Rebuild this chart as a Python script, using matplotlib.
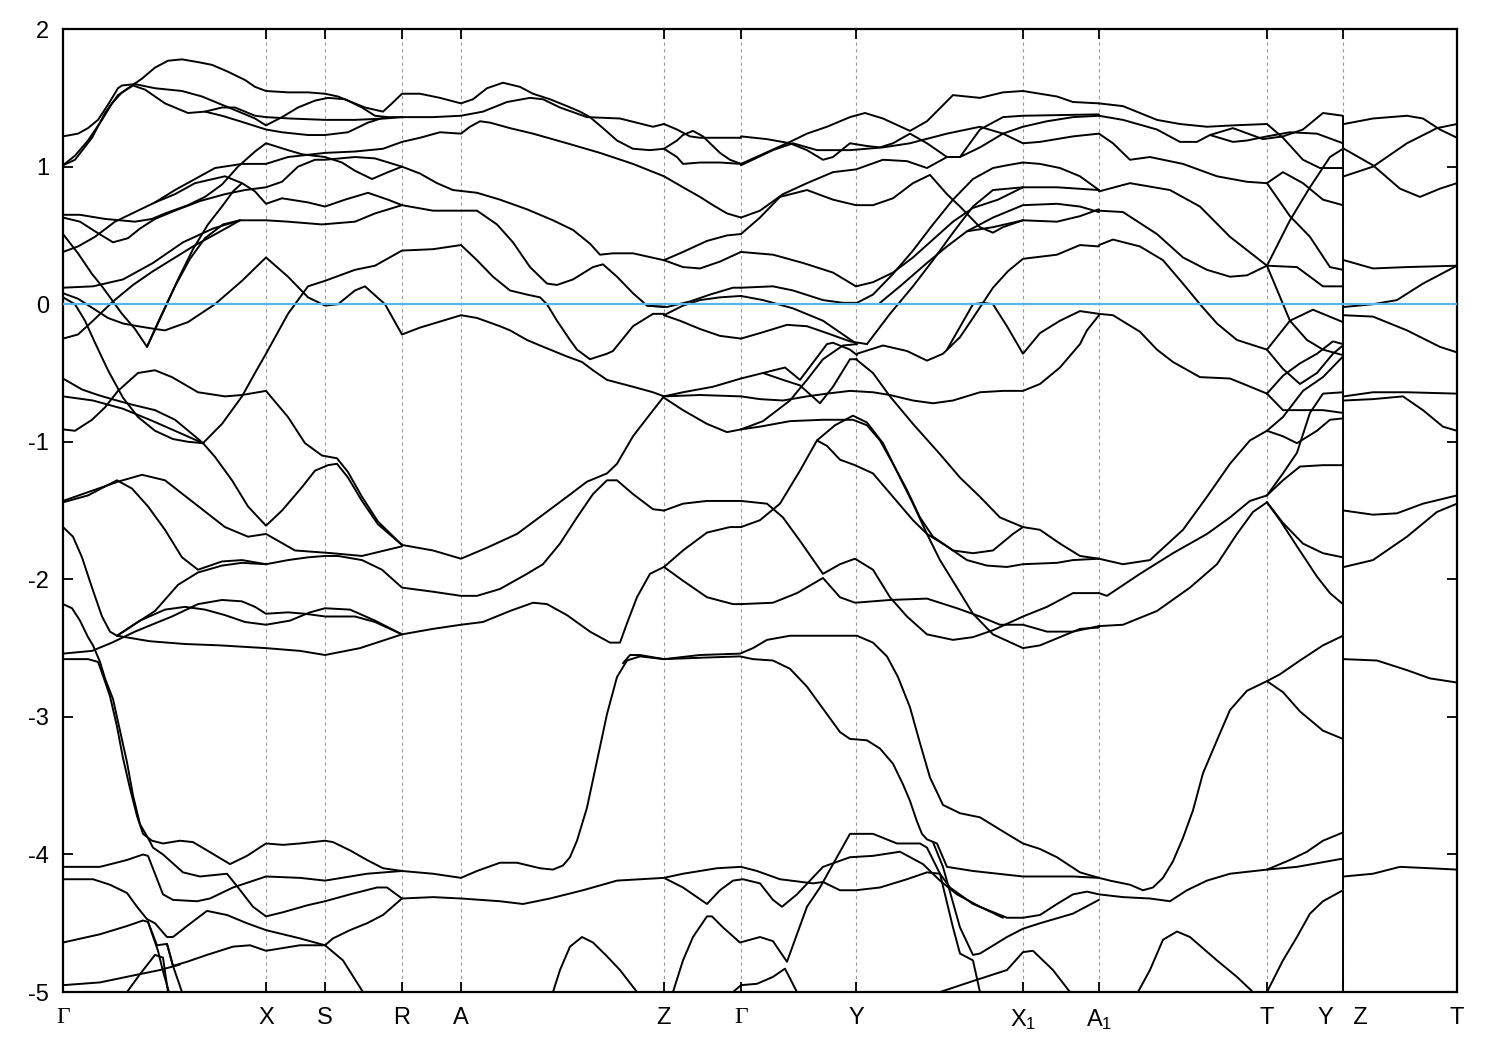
import matplotlib
matplotlib.use("Agg")
import matplotlib.pyplot as plt

plt.rcParams['font.family'] = ['Liberation Sans', 'DejaVu Sans']
plt.rcParams['axes.unicode_minus'] = False
plt.rcParams['mathtext.fontset'] = 'custom'
plt.rcParams['mathtext.rm'] = 'Liberation Sans'
plt.rcParams['mathtext.default'] = 'regular'

# k-path positions of the high-symmetry points (arbitrary path units)
kpoints = [0, 203, 262, 339, 398, 601, 678, 793, 960, 1036, 1204, 1280, 1394]
klabels = ['Γ', 'X', 'S', 'R', 'A', 'Z', 'Γ', 'Y', 'X$_1$', 'A$_1$', 'T', 'Y   Z', 'T']
k_break = 1280      # Y|Z discontinuity
e_min, e_max = -5, 2

# ---- bands, Gamma -> X -> S -> R -> A -> Z, upper part  (k, E in eV)
g_z_top = [
    [(0,1.01),(12,1.08),(25,1.19),(39,1.34),(49,1.46),(59,1.54),(69,1.59),(79,1.64),(92,1.72),(105,1.77),(119,1.78),(135,1.76),(149,1.74),(165,1.69),(182,1.63),(192,1.58),(203,1.55),(225,1.54),(245,1.54),(262,1.53),(275,1.51),(285,1.48),(302,1.43),(320,1.40),(329,1.46),(339,1.53),(357,1.53),(377,1.50),(398,1.46),(410,1.49),(424,1.57),(440,1.61),(457,1.58),(470,1.53),(487,1.49),(504,1.44),(517,1.40),(527,1.36),(540,1.28),(554,1.19),(570,1.13),(587,1.12),(601,1.13)],
    [(0,1.22),(15,1.24),(25,1.28),(35,1.34),(45,1.45),(55,1.57),(59,1.59),(72,1.60),(92,1.57),(119,1.55),(139,1.51),(159,1.45),(179,1.39),(192,1.35),(203,1.30),(219,1.36),(235,1.43),(252,1.48),(265,1.50),(282,1.49),(299,1.43),(312,1.37),(325,1.36),(339,1.36),(370,1.36),(398,1.37),(420,1.40),(444,1.47),(467,1.50),(480,1.49),(497,1.43),(524,1.36),(557,1.35),(590,1.29),(601,1.31)],
    [(0,1.01),(12,1.05),(29,1.21),(42,1.39),(55,1.52),(70,1.59),(82,1.56),(102,1.46),(125,1.39),(142,1.40),(159,1.43),(172,1.43),(192,1.37),(203,1.36),(227,1.35),(262,1.34),(292,1.34),(322,1.35),(339,1.36)],
    [(142,1.40),(159,1.37),(177,1.33),(203,1.27),(219,1.25),(245,1.23),(262,1.23),(285,1.25),(305,1.32),(322,1.36)],
    [(0,0.65),(17,0.65),(42,0.62),(72,0.60),(89,0.62),(102,0.66),(125,0.72),(142,0.78),(159,0.87),(175,1.0),(192,1.11),(203,1.17),(225,1.12),(239,1.09),(262,1.07),(279,1.03),(292,0.97),(309,0.91),(325,0.96),(339,1.00),(357,0.95),(374,0.88),(390,0.83),(414,0.81),(437,0.76),(464,0.69),(490,0.61),(510,0.54),(527,0.44),(537,0.36),(550,0.37),(570,0.37),(601,0.32)],
    [(0,0.38),(15,0.42),(32,0.49),(52,0.60),(72,0.67),(92,0.74),(112,0.83),(132,0.91),(152,0.99),(179,1.02),(203,1.02),(225,1.07),(262,1.10),(292,1.11),(320,1.13),(339,1.18),(357,1.21),(377,1.25),(398,1.24),(407,1.29),(417,1.33),(427,1.32),(447,1.28),(470,1.24),(504,1.17),(537,1.10),(570,1.02),(601,0.93)],
    [(0,0.63),(17,0.60),(32,0.53),(50,0.45),(65,0.48),(77,0.55),(92,0.62),(112,0.68),(137,0.75),(162,0.80),(182,0.83),(203,0.85),(219,0.89),(235,1.0),(252,1.05),(262,1.05),(292,1.07),(312,1.06),(339,1.0)],
    [(92,0.74),(112,0.80),(132,0.88),(162,0.93),(179,0.88),(192,0.82),(203,0.73),(219,0.77),(245,0.74),(262,0.71),(282,0.76),(305,0.81),(325,0.76),(339,0.72),(370,0.68),(414,0.68),(434,0.58),(450,0.45),(467,0.27),(484,0.15),(494,0.14),(510,0.18),(530,0.27),(540,0.29),(554,0.20),(570,0.08),(584,-0.01),(601,-0.02)],
    [(0,0.51),(15,0.37),(29,0.22),(39,0.13),(47,0.05),(59,-0.07),(72,-0.18),(84,-0.31),(97,-0.10),(112,0.13),(127,0.33),(142,0.48),(160,0.58),(177,0.61),(203,0.61),(225,0.60),(259,0.58),(292,0.60),(312,0.66),(339,0.72)],
    [(84,-0.31),(100,-0.06),(115,0.18),(130,0.40),(145,0.58),(160,0.72),(170,0.82),(179,0.88)],
    [(0,0.08),(15,0.04),(30,-0.03),(45,-0.10),(60,-0.14),(75,-0.16),(92,-0.18),(102,-0.19),(125,-0.13),(152,0.0),(179,0.17),(203,0.34),(225,0.20),(245,0.05),(262,-0.01),(275,0.0),(292,0.10),(302,0.13),(322,0.0),(339,-0.22),(357,-0.17),(398,-0.08),(414,-0.10),(437,-0.16),(447,-0.19),(464,-0.26),(477,-0.30),(504,-0.38),(519,-0.42),(530,-0.48),(544,-0.55),(570,-0.60),(590,-0.64),(601,-0.67)],
    [(0,0.12),(30,0.13),(60,0.18),(90,0.30),(120,0.45),(150,0.55),(177,0.61)],
    [(0,-0.25),(15,-0.22),(30,-0.12),(50,0.02),(70,0.14),(90,0.24),(110,0.33),(130,0.42),(150,0.50),(165,0.56),(177,0.61)],
    [(0,0.05),(12,0.0),(22,-0.12),(32,-0.28),(45,-0.48),(60,-0.68),(75,-0.82),(92,-0.92),(110,-0.98),(125,-1.0),(140,-1.01)],
    [(140,-1.01),(159,-0.87),(179,-0.67),(192,-0.50),(203,-0.36),(225,-0.07),(245,0.13),(262,0.17),(292,0.25),(312,0.28),(339,0.39),(370,0.40),(398,0.43),(414,0.32),(430,0.20),(447,0.10),(464,0.07),(477,0.05),(484,0.0),(494,-0.12),(507,-0.26),(514,-0.33),(527,-0.40),(544,-0.36),(550,-0.34),(570,-0.16),(590,-0.07),(601,-0.07)],
]

# ---- Gamma -> Z, middle part
g_z_mid = [
    [(0,-0.54),(19,-0.62),(35,-0.66),(49,-0.69),(69,-0.73),(92,-0.77),(112,-0.84),(132,-0.96),(140,-1.01)],
    [(0,-0.67),(30,-0.70),(60,-0.76),(90,-0.85),(115,-0.93),(140,-1.01),(152,-1.11),(169,-1.28),(185,-1.47),(203,-1.61),(219,-1.50),(239,-1.33),(252,-1.21),(265,-1.17),(274,-1.16),(285,-1.26),(299,-1.43),(315,-1.60),(339,-1.75),(370,-1.79),(398,-1.85),(424,-1.77),(454,-1.67),(480,-1.53),(504,-1.40),(524,-1.29),(544,-1.23),(554,-1.16),(570,-0.96),(587,-0.80),(601,-0.67)],
    [(0,-0.91),(12,-0.92),(29,-0.84),(42,-0.75),(55,-0.63),(75,-0.50),(92,-0.48),(109,-0.53),(135,-0.64),(162,-0.67),(179,-0.66),(203,-0.63),(225,-0.82),(242,-1.01),(259,-1.10),(274,-1.12),(285,-1.22),(299,-1.40),(315,-1.58),(339,-1.75)],
    [(0,-1.43),(55,-1.29),(79,-1.24),(102,-1.28),(132,-1.45),(162,-1.62),(185,-1.69),(203,-1.67),(232,-1.79),(269,-1.81),(299,-1.83),(339,-1.76)],
    [(0,-1.44),(25,-1.39),(54,-1.28),(69,-1.34),(85,-1.47),(102,-1.64),(119,-1.84),(135,-1.93),(159,-1.87),(179,-1.86),(203,-1.89),(225,-1.86),(245,-1.84),(262,-1.83),(275,-1.83),(299,-1.86),(319,-1.93),(339,-2.06),(370,-2.09),(398,-2.12),(414,-2.12),(437,-2.07),(464,-1.96),(480,-1.89),(497,-1.74),(514,-1.55),(530,-1.38),(544,-1.28),(554,-1.28),(570,-1.38),(590,-1.49),(601,-1.50)],
    [(0,-1.62),(10,-1.69),(19,-1.84),(29,-2.06),(39,-2.27),(47,-2.38),(54,-2.41),(75,-2.31),(92,-2.23),(115,-2.04),(135,-1.95),(159,-1.90),(179,-1.88),(203,-1.89)],
    [(0,-2.54),(29,-2.52),(49,-2.46),(72,-2.38),(92,-2.32),(109,-2.27),(135,-2.18),(159,-2.15),(179,-2.16),(192,-2.20),(203,-2.25),(225,-2.24),(242,-2.25),(262,-2.27),(292,-2.27),(312,-2.31),(339,-2.40),(370,-2.36),(398,-2.33),(420,-2.31),(447,-2.23),(470,-2.17),(484,-2.18),(504,-2.26),(527,-2.38),(547,-2.46),(557,-2.46),(564,-2.32),(574,-2.13),(587,-1.96),(601,-1.91)],
    [(54,-2.41),(77,-2.30),(102,-2.22),(122,-2.20),(142,-2.22),(162,-2.26),(182,-2.31),(203,-2.33),(227,-2.30),(247,-2.24),(262,-2.21),(287,-2.22),(312,-2.30),(339,-2.40)],
    [(54,-2.41),(87,-2.45),(122,-2.47),(157,-2.48),(203,-2.50),(237,-2.52),(262,-2.55),(297,-2.50),(339,-2.40)],
]

# ---- lower bands along the whole path
low_bands = [
    [(0,-2.58),(25,-2.58),(35,-2.60),(40,-2.70),(47,-2.85),(54,-3.07),(60,-3.30),(67,-3.52),(74,-3.72),(80,-3.85),(89,-3.90),(100,-3.92),(117,-3.90),(130,-3.91),(144,-3.97),(167,-4.07),(184,-4.01),(203,-3.92),(220,-3.93),(237,-3.92),(262,-3.90),(270,-3.91),(287,-3.97),(304,-4.04),(320,-4.10),(339,-4.12),(370,-4.14),(398,-4.17),(414,-4.12),(437,-4.06),(454,-4.06),(477,-4.10),(490,-4.11),(500,-4.08),(507,-4.02),(514,-3.90),(524,-3.66),(534,-3.32),(544,-2.98),(554,-2.71),(564,-2.59),(577,-2.56),(601,-2.58),(637,-2.57),(677,-2.56),(690,-2.58),(710,-2.59),(727,-2.65),(744,-2.78),(764,-2.98),(777,-3.11),(787,-3.16),(804,-3.17),(817,-3.23),(830,-3.34),(840,-3.49),(847,-3.61),(854,-3.76),(859,-3.85),(864,-3.89),(874,-3.92),(884,-4.09),(910,-4.12),(960,-4.16),(1010,-4.16),(1036,-4.17)],
    [(0,-2.18),(9,-2.21),(17,-2.30),(25,-2.42),(30,-2.48),(37,-2.60),(42,-2.72),(50,-2.87),(57,-3.10),(64,-3.33),(70,-3.57),(77,-3.78),(85,-3.88),(90,-3.95),(100,-4.0),(120,-4.13),(137,-4.16),(164,-4.14),(174,-4.23),(190,-4.38),(203,-4.45),(220,-4.42),(244,-4.37),(262,-4.34),(287,-4.29),(314,-4.24),(324,-4.24),(339,-4.32),(370,-4.31),(398,-4.32),(437,-4.34),(460,-4.36),(487,-4.32),(520,-4.26),(554,-4.19),(601,-4.17),(620,-4.14),(654,-4.10),(678,-4.09),(694,-4.12),(717,-4.18),(750,-4.21),(760,-4.20),(777,-4.26),(793,-4.26),(817,-4.24),(844,-4.18),(864,-4.13),(877,-4.14),(887,-4.24),(910,-4.36),(944,-4.46),(960,-4.46),(977,-4.44),(994,-4.36),(1010,-4.29),(1024,-4.27),(1036,-4.29),(1060,-4.31),(1087,-4.32),(1107,-4.34),(1124,-4.26),(1144,-4.19),(1167,-4.14),(1204,-4.11),(1234,-4.09),(1280,-4.03)],
    [(0,-4.09),(37,-4.09),(64,-4.04),(80,-4.00),(85,-4.01),(92,-4.14),(100,-4.29),(110,-4.33),(134,-4.34),(147,-4.32),(170,-4.24),(203,-4.16),(237,-4.17),(262,-4.19),(304,-4.14),(339,-4.12)],
    [(0,-4.18),(30,-4.18),(47,-4.22),(64,-4.28),(74,-4.38),(84,-4.47),(92,-4.50),(104,-4.60),(110,-4.60),(124,-4.52),(144,-4.41),(164,-4.44),(184,-4.50),(203,-4.55),(237,-4.61),(262,-4.66),(270,-4.61),(287,-4.55),(304,-4.50),(320,-4.44),(339,-4.32)],
    [(0,-4.64),(37,-4.58),(64,-4.52),(80,-4.48),(85,-4.49),(94,-4.66),(104,-4.65),(110,-4.81),(124,-4.78),(144,-4.73),(170,-4.67),(187,-4.66),(203,-4.70),(237,-4.66),(262,-4.66),(280,-4.77),(300,-5.0)],
    [(0,-4.95),(37,-4.93),(70,-4.88),(97,-4.84),(107,-4.82),(117,-4.80)],
    [(64,-5.0),(77,-4.87),(92,-4.73),(100,-4.75),(105,-5.0)],
    [(85,-4.49),(95,-4.70),(100,-4.85),(106,-5.0)],
    [(104,-4.65),(110,-4.81),(119,-5.0)],
    [(490,-5.0),(497,-4.84),(507,-4.67),(519,-4.60),(530,-4.64),(544,-4.74),(557,-4.84),(574,-5.0)],
    [(610,-5.0),(620,-4.77),(630,-4.60),(644,-4.45),(649,-4.45),(660,-4.53),(677,-4.64),(697,-4.60),(710,-4.63),(724,-4.78),(744,-4.38),(757,-4.24),(787,-3.85),(810,-3.85),(834,-3.92),(857,-3.92),(864,-3.95),(877,-4.14),(890,-4.53),(897,-4.72),(910,-4.77),(917,-5.0)],
    [(601,-4.17),(620,-4.24),(644,-4.36),(657,-4.26),(670,-4.19),(680,-4.18),(697,-4.21),(710,-4.33),(719,-4.38),(734,-4.29),(760,-4.09),(787,-4.02),(810,-4.01),(837,-3.98),(860,-4.07),(877,-4.19),(894,-4.29),(917,-4.38),(940,-4.46)],
    [(670,-5.0),(678,-4.95),(694,-4.94),(710,-4.89),(722,-4.83),(734,-5.0)],
    [(560,-2.61),(567,-2.55),(577,-2.55),(601,-2.58),(637,-2.55),(677,-2.54),(690,-2.50),(704,-2.44),(727,-2.41),(760,-2.41),(794,-2.41),(810,-2.46),(824,-2.56),(835,-2.71),(847,-2.93),(857,-3.19),(867,-3.44),(880,-3.64),(897,-3.70),(917,-3.73),(944,-3.85),(960,-3.92),(977,-3.96),(994,-4.02),(1017,-4.13),(1036,-4.17),(1047,-4.19),(1067,-4.22),(1080,-4.26),(1090,-4.24),(1100,-4.17),(1110,-4.05),(1120,-3.88),(1130,-3.68),(1140,-3.41),(1154,-3.17),(1167,-2.95),(1184,-2.81),(1204,-2.74),(1217,-2.69),(1237,-2.59),(1260,-2.48),(1280,-2.41)],
    [(1204,-2.74),(1220,-2.82),(1237,-2.96),(1260,-3.10),(1280,-3.16)],
    [(877,-5.0),(910,-4.92),(944,-4.84),(960,-4.71),(970,-4.70),(990,-4.84),(1007,-5.0)],
    [(870,-3.91),(880,-4.09),(897,-4.53),(910,-4.73),(917,-4.72),(944,-4.60),(960,-4.54),(977,-4.50),(1010,-4.43),(1036,-4.33)],
    [(1204,-4.11),(1227,-4.04),(1244,-3.98),(1260,-3.90),(1280,-3.84)],
    [(1204,-5.0),(1220,-4.77),(1234,-4.60),(1247,-4.43),(1260,-4.34),(1280,-4.26)],
    [(1075,-5.0),(1087,-4.84),(1100,-4.62),(1114,-4.56),(1127,-4.60),(1154,-4.77),(1174,-4.89),(1190,-5.0)],
]

# ---- Z -> Gamma
z_g = [
    [(601,1.13),(614,1.19),(620,1.23),(630,1.26),(640,1.22),(657,1.10),(667,1.05),(678,1.02)],
    [(601,1.31),(614,1.27),(627,1.22),(637,1.21),(678,1.21)],
    [(601,1.13),(614,1.07),(620,1.02),(637,1.03),(657,1.03),(678,1.02)],
    [(601,0.93),(620,0.85),(637,0.78),(650,0.72),(664,0.66),(678,0.63)],
    [(601,0.32),(620,0.38),(644,0.46),(664,0.50),(678,0.51)],
    [(601,0.32),(620,0.27),(637,0.26),(657,0.31),(678,0.38)],
    [(584,-0.01),(604,-0.02),(627,0.02),(647,0.07),(670,0.12),(678,0.12)],
    [(601,-0.08),(620,-0.01),(637,0.03),(657,0.05),(678,0.06)],
    [(601,-0.08),(617,-0.12),(637,-0.18),(657,-0.23),(678,-0.25)],
    [(601,-0.67),(620,-0.64),(650,-0.60),(678,-0.54)],
    [(601,-0.67),(637,-0.66),(678,-0.67)],
    [(601,-0.68),(620,-0.77),(644,-0.87),(664,-0.93),(678,-0.91)],
    [(601,-1.50),(620,-1.45),(644,-1.43),(678,-1.43)],
    [(601,-1.91),(620,-1.79),(644,-1.66),(667,-1.62),(678,-1.62)],
    [(601,-1.91),(620,-2.01),(644,-2.13),(670,-2.18),(678,-2.18)],
]

# ---- Gamma -> Y -> X1 -> A1
g_a1 = [
    [(678,1.22),(704,1.20),(727,1.17),(744,1.12),(760,1.05),(770,1.07),(787,1.17),(804,1.15),(817,1.14),(830,1.17),(847,1.24),(864,1.17),(884,1.07),(897,1.07),(917,1.14),(940,1.24),(960,1.29),(984,1.33),(1010,1.36),(1036,1.37)],
    [(678,1.02),(727,1.18),(744,1.24),(764,1.29),(787,1.36),(802,1.39),(820,1.35),(847,1.26),(864,1.33),(890,1.52),(917,1.50),(940,1.54),(960,1.55),(994,1.51),(1010,1.47),(1036,1.46)],
    [(678,1.01),(710,1.12),(730,1.17),(754,1.12),(787,1.12),(820,1.14),(847,1.17),(884,1.24),(917,1.29),(940,1.24),(960,1.17),(977,1.18),(1010,1.22),(1036,1.24)],
    [(897,1.07),(917,1.27),(940,1.36),(960,1.37),(1036,1.38)],
    [(678,0.63),(697,0.68),(720,0.80),(744,0.88),(770,0.96),(793,0.98),(820,1.05),(844,1.04),(864,0.99),(884,1.07)],
    [(678,0.51),(697,0.63),(717,0.78),(744,0.83),(770,0.76),(793,0.72),(810,0.72),(830,0.77),(850,0.88),(867,0.94),(884,0.80),(897,0.71),(917,0.56),(930,0.52),(940,0.56),(960,0.61),(994,0.60),(1017,0.64),(1036,0.69)],
    [(960,1.03),(977,1.02),(997,0.99),(1017,0.93),(1036,0.83)],
    [(960,0.85),(994,0.85),(1036,0.83)],
    [(904,0.53),(930,0.63),(960,0.72),(994,0.73),(1017,0.71),(1036,0.67)],
    [(794,0.01),(810,0.07),(830,0.22),(850,0.39),(870,0.58),(890,0.76),(910,0.91),(930,0.99),(944,1.01),(960,1.03)],
    [(804,-0.29),(827,-0.07),(850,0.13),(870,0.32),(890,0.52),(910,0.71),(930,0.83),(960,0.85)],
    [(793,0.13),(810,0.16),(830,0.23),(850,0.34),(870,0.47),(890,0.60),(910,0.70),(935,0.76),(960,0.85)],
    [(817,0.01),(837,0.13),(864,0.30),(884,0.42),(904,0.53),(930,0.56),(960,0.61)],
    [(884,-0.33),(910,0.0),(920,0.01),(930,0.0),(944,-0.16),(960,-0.36),(977,-0.21),(997,-0.12),(1017,-0.05),(1036,-0.07)],
    [(678,-0.25),(697,-0.21),(724,-0.15),(744,-0.16),(764,-0.21),(787,-0.27),(804,-0.29)],
    [(678,0.12),(710,0.13),(730,0.10),(760,0.03),(780,0.01),(794,0.01)],
    [(678,0.06),(700,0.03),(730,-0.03),(760,-0.12),(780,-0.22),(794,-0.29)],
    [(678,0.38),(710,0.36),(740,0.30),(770,0.23),(793,0.13)],
    [(678,-0.67),(697,-0.69),(720,-0.70),(744,-0.67),(764,-0.65),(787,-0.63),(810,-0.64),(827,-0.66),(850,-0.70),(870,-0.72),(890,-0.70),(917,-0.64),(940,-0.63),(960,-0.63),(977,-0.58),(997,-0.46),(1017,-0.29),(1024,-0.19),(1036,-0.08)],
    [(678,-0.91),(697,-0.89),(727,-0.85),(760,-0.84),(790,-0.84),(804,-0.88),(817,-0.99),(830,-1.16),(844,-1.35),(857,-1.55),(870,-1.69),(890,-1.79),(910,-1.81),(930,-1.79),(950,-1.67),(960,-1.62),(977,-1.64),(997,-1.74),(1017,-1.83),(1036,-1.85)],
    [(754,-0.99),(772,-0.88),(790,-0.81),(804,-0.86),(820,-1.01),(837,-1.26),(850,-1.45),(864,-1.67),(877,-1.86),(894,-2.06),(910,-2.25),(930,-2.40),(960,-2.50),(977,-2.48),(997,-2.42),(1017,-2.36),(1036,-2.35)],
    [(678,-1.43),(704,-1.45),(720,-1.55),(737,-1.72),(760,-1.96),(777,-1.89),(792,-1.85),(810,-1.93),(827,-2.13),(844,-2.27),(864,-2.40),(890,-2.44),(910,-2.42),(930,-2.37),(960,-2.27),(984,-2.20),(1010,-2.10),(1036,-2.10)],
    [(678,-1.62),(697,-1.57),(717,-1.45),(737,-1.21),(754,-0.99),(764,-1.03),(777,-1.13),(792,-1.17),(810,-1.23),(830,-1.40),(850,-1.57),(864,-1.67),(884,-1.76),(904,-1.86),(924,-1.90),(944,-1.91),(960,-1.89),(994,-1.88),(1010,-1.86),(1036,-1.85)],
    [(678,-2.18),(710,-2.17),(734,-2.10),(760,-1.99),(777,-2.13),(792,-2.17),(827,-2.15),(864,-2.14),(894,-2.21),(917,-2.27),(937,-2.33),(960,-2.33),(984,-2.38),(1010,-2.38),(1036,-2.34)],
    [(678,-0.54),(700,-0.50),(722,-0.46),(737,-0.55),(764,-0.29),(770,-0.28),(787,-0.33),(794,-0.37)],
    [(700,-0.50),(720,-0.55),(737,-0.59),(757,-0.72),(770,-0.60),(787,-0.40),(794,-0.40)],
    [(678,-0.91),(700,-0.85),(727,-0.70),(744,-0.55),(760,-0.40),(780,-0.30),(794,-0.29)],
    [(793,-0.40),(810,-0.50),(827,-0.67),(850,-0.87),(877,-1.09),(897,-1.26),(917,-1.40),(937,-1.55),(960,-1.62)],
    [(794,-0.36),(820,-0.30),(844,-0.34),(864,-0.41),(880,-0.36),(897,-0.24),(910,-0.10),(920,0.01),(930,0.12),(945,0.24),(960,0.33),(994,0.36),(1017,0.43),(1036,0.42)],
]

# ---- A1 -> T -> Y
a1_y = [
    [(1036,1.46),(1060,1.44),(1094,1.34),(1117,1.31),(1144,1.29),(1170,1.30),(1204,1.31),(1220,1.21),(1240,1.05),(1257,0.99),(1280,0.99)],
    [(1036,1.37),(1060,1.34),(1094,1.27),(1117,1.18),(1134,1.18),(1147,1.23),(1170,1.28),(1200,1.20),(1220,1.22),(1240,1.27),(1260,1.39),(1280,1.37)],
    [(1147,1.23),(1170,1.18),(1184,1.19),(1204,1.22),(1227,1.25),(1254,1.24),(1280,1.17)],
    [(1036,1.24),(1050,1.17),(1067,1.05),(1087,1.07),(1120,1.02),(1154,0.93),(1184,0.89),(1204,0.88),(1220,0.96),(1240,0.88),(1260,0.76),(1280,0.72)],
    [(1204,0.88),(1227,0.64),(1247,0.49),(1267,0.27),(1280,0.25)],
    [(1036,0.82),(1067,0.88),(1107,0.83),(1137,0.71),(1167,0.49),(1204,0.28)],
    [(1036,0.68),(1060,0.67),(1094,0.51),(1120,0.34),(1144,0.25),(1167,0.20),(1184,0.21),(1204,0.28)],
    [(1036,0.43),(1050,0.47),(1077,0.42),(1100,0.32),(1120,0.15),(1137,0.0),(1154,-0.14),(1174,-0.26),(1204,-0.33)],
    [(1204,0.28),(1227,0.61),(1247,0.85),(1267,1.07),(1280,1.13)],
    [(1204,0.28),(1234,0.27),(1260,0.13),(1280,0.13)],
    [(1204,0.28),(1227,-0.12),(1244,-0.26),(1260,-0.33),(1280,-0.37)],
    [(1036,-0.07),(1050,-0.08),(1077,-0.20),(1094,-0.33),(1110,-0.42),(1137,-0.53),(1167,-0.54),(1184,-0.59),(1204,-0.65)],
    [(1204,-0.33),(1227,-0.12),(1250,-0.04),(1280,-0.13)],
    [(1204,-0.33),(1220,-0.47),(1237,-0.58),(1254,-0.50),(1270,-0.36),(1280,-0.30)],
    [(1204,-0.65),(1220,-0.52),(1237,-0.43),(1254,-0.36),(1270,-0.27),(1280,-0.29)],
    [(1204,-0.65),(1220,-0.77),(1240,-0.77),(1260,-0.77),(1280,-0.79)],
    [(1204,-0.92),(1220,-0.96),(1234,-1.01),(1254,-0.92),(1267,-0.84),(1280,-0.83)],
    [(1204,-0.92),(1220,-0.82),(1240,-0.63),(1260,-0.53),(1280,-0.38)],
    [(1204,-1.39),(1220,-1.28),(1237,-1.18),(1260,-1.17),(1280,-1.17)],
    [(1204,-1.39),(1220,-1.23),(1234,-1.08),(1247,-0.79),(1260,-0.65),(1280,-0.64)],
    [(1204,-1.44),(1220,-1.59),(1240,-1.74),(1260,-1.81),(1280,-1.84)],
    [(1204,-1.44),(1217,-1.57),(1234,-1.76),(1254,-1.98),(1267,-2.10),(1280,-2.18)],
    [(1036,-1.85),(1060,-1.89),(1087,-1.86),(1120,-1.64),(1144,-1.40),(1167,-1.16),(1187,-0.99),(1204,-0.92)],
    [(1036,-2.10),(1044,-2.12),(1077,-1.96),(1110,-1.81),(1144,-1.67),(1167,-1.55),(1187,-1.43),(1204,-1.39)],
    [(1036,-2.34),(1060,-2.33),(1094,-2.23),(1127,-2.06),(1154,-1.89),(1174,-1.67),(1190,-1.51),(1204,-1.44)],
]

# ---- Z -> T
z_t = [
    [(1281,1.31),(1310,1.35),(1344,1.37),(1360,1.35),(1377,1.27),(1394,1.21)],
    [(1281,1.13),(1310,1.01),(1337,0.84),(1357,0.78),(1377,0.84),(1394,0.88)],
    [(1281,0.93),(1310,1.0),(1344,1.17),(1374,1.28),(1394,1.31)],
    [(1281,0.32),(1310,0.26),(1344,0.27),(1394,0.28)],
    [(1281,-0.02),(1310,0.0),(1334,0.03),(1360,0.15),(1394,0.28)],
    [(1281,-0.08),(1310,-0.09),(1344,-0.19),(1377,-0.31),(1394,-0.35)],
    [(1281,-0.67),(1310,-0.64),(1344,-0.64),(1394,-0.65)],
    [(1281,-0.70),(1310,-0.69),(1340,-0.67),(1360,-0.77),(1380,-0.89),(1394,-0.92)],
    [(1281,-1.50),(1310,-1.53),(1334,-1.52),(1360,-1.45),(1394,-1.39)],
    [(1281,-1.91),(1310,-1.86),(1344,-1.69),(1374,-1.51),(1394,-1.45)],
    [(1281,-2.58),(1314,-2.59),(1344,-2.66),(1367,-2.72),(1394,-2.75)],
    [(1281,-4.16),(1310,-4.14),(1337,-4.09),(1367,-4.10),(1394,-4.11)],
]

fig = plt.figure(figsize=(15, 10.5), dpi=100)
ax = fig.add_axes([0.042, 0.0552, 0.9293, 0.9171])

for k in kpoints[1:-1]:
    ax.axvline(k, color='#999999', lw=0.8, ls=(0, (3, 3)), zorder=0)

for group in [g_z_top, g_z_mid, low_bands, z_g, g_a1, a1_y, z_t]:
    for band in group:
        ks, es = zip(*band)
        ax.plot(ks, es, color='black', lw=1.4, solid_joinstyle='round',
                solid_capstyle='round', zorder=2)

# vertical jump of all bands between Y and Z
ax.vlines(k_break, e_min, 1.37, color='black', lw=1.4, zorder=2)

ax.axhline(0, color='#5ab4e6', lw=1.6, zorder=3)

ax.set_xlim(kpoints[0], kpoints[-1])
ax.set_ylim(e_min, e_max)
ax.set_xticks(kpoints)
ax.set_xticklabels(klabels)
ax.set_yticks(range(e_min, e_max + 1))
ax.tick_params(direction='in', length=7, width=1.3, top=True, right=True,
               labelsize=17)
ax.tick_params(axis='x', pad=11)
ax.tick_params(axis='y', pad=10)
for lab in ax.get_xticklabels():
    if lab.get_text() == 'Γ':
        lab.set_fontfamily('Liberation Serif')
for sp in ax.spines.values():
    sp.set_linewidth(1.6)

fig.savefig('out.png', dpi=100)
